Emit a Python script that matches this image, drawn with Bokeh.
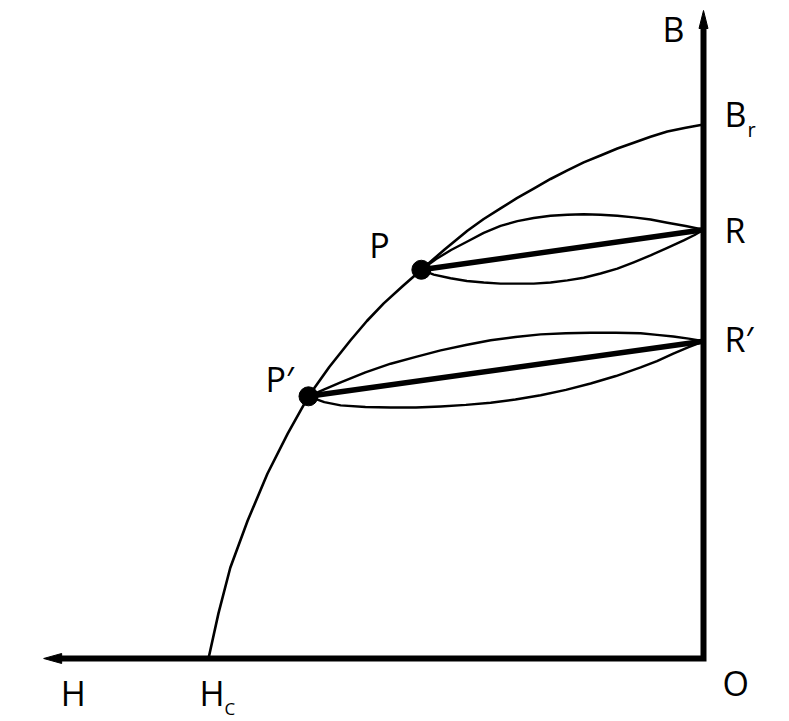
from bokeh.plotting import figure
from bokeh.models import Range1d, Label
from bokeh.embed import file_html
from bokeh.resources import INLINE

# ---- data (H in units of Hc, B in units of Br) ----
HC = -1.0
BR = 1.0
H_AXIS_END = -1.333
B_AXIS_END = 1.2135

# demagnetisation curve from Hc to Br
curve_H = [-1.000, -0.980, -0.956, -0.921, -0.881, -0.840, -0.798, -0.756, -0.713, -0.680,
           -0.646, -0.608, -0.570, -0.523, -0.477, -0.444, -0.410, -0.377, -0.343, -0.309,
           -0.275, -0.242, -0.208, -0.174, -0.141, -0.107, -0.073, -0.036, 0.000]
curve_B = [0.000, 0.084, 0.170, 0.258, 0.346, 0.421, 0.491, 0.546, 0.596, 0.632,
           0.665, 0.697, 0.728, 0.766, 0.801, 0.823, 0.843, 0.862, 0.880, 0.898,
           0.914, 0.929, 0.942, 0.955, 0.966, 0.977, 0.987, 0.994, 1.000]

# working points and recoil points
P = (-0.570, 0.728)
R = (0.000, 0.803)
P2 = (-0.798, 0.491)
R2 = (0.000, 0.594)

# recoil loop through P
loop1_up_H = [-0.570, -0.540, -0.510, -0.477, -0.444, -0.410, -0.376, -0.343, -0.309, -0.275,
              -0.242, -0.208, -0.174, -0.141, -0.107, -0.073, -0.036, 0.000]
loop1_up_B = [0.728, 0.748, 0.765, 0.781, 0.797, 0.810, 0.819, 0.825, 0.829, 0.831,
              0.832, 0.831, 0.829, 0.826, 0.822, 0.816, 0.810, 0.803]
loop1_lo_H = [-0.570, -0.545, -0.511, -0.478, -0.444, -0.410, -0.376, -0.343, -0.309, -0.275,
              -0.242, -0.208, -0.174, -0.141, -0.107, -0.073, -0.040, -0.018, 0.000]
loop1_lo_B = [0.728, 0.719, 0.712, 0.707, 0.704, 0.702, 0.702, 0.702, 0.704, 0.708,
              0.713, 0.721, 0.730, 0.742, 0.755, 0.769, 0.783, 0.793, 0.803]

# recoil loop through P'
loop2_up_H = [-0.798, -0.766, -0.733, -0.683, -0.632, -0.581, -0.531, -0.480, -0.430, -0.380,
              -0.329, -0.278, -0.228, -0.177, -0.127, -0.094, -0.061, -0.030, 0.000]
loop2_up_B = [0.491, 0.504, 0.517, 0.536, 0.552, 0.565, 0.577, 0.587, 0.596, 0.602,
              0.607, 0.609, 0.610, 0.610, 0.609, 0.606, 0.603, 0.599, 0.594]
loop2_lo_H = [-0.798, -0.766, -0.733, -0.683, -0.632, -0.581, -0.531, -0.480, -0.430, -0.380,
              -0.329, -0.278, -0.228, -0.177, -0.127, -0.094, -0.061, -0.030, 0.000]
loop2_lo_B = [0.491, 0.480, 0.474, 0.471, 0.470, 0.470, 0.472, 0.475, 0.479, 0.485,
              0.493, 0.503, 0.515, 0.529, 0.545, 0.557, 0.571, 0.583, 0.594]

# ---- figure ----
W, H = 789, 721
x0, x1 = -1.420202, 0.173737
y0, y1 = -0.117978, 1.232210
p = figure(width=W, height=H, x_range=Range1d(x0, x1), y_range=Range1d(y0, y1),
           output_backend="svg", toolbar_location=None, min_border=0,
           x_axis_location=None, y_axis_location=None)
p.grid.visible = False
p.outline_line_color = None
p.background_fill_color = "white"

ux = (x1 - x0) / W   # data per pixel
uy = (y1 - y0) / H

# axes (one polyline with a square corner)
p.line([H_AXIS_END + 15 * ux, 0, 0], [0, 0, B_AXIS_END - 15 * uy],
       line_width=6, line_color="black", line_join="miter", line_cap="butt")
# arrow heads
p.patch([0, -4.5 * ux, 4.5 * ux], [B_AXIS_END, B_AXIS_END - 18 * uy, B_AXIS_END - 18 * uy],
        fill_color="black", line_color="black", line_width=1)
p.patch([H_AXIS_END, H_AXIS_END + 18 * ux, H_AXIS_END + 18 * ux],
        [0, 5 * uy, -5 * uy], fill_color="black", line_color="black", line_width=1)

# curves
p.line(curve_H, curve_B, line_width=2.6, line_color="black", line_join="round")
for hx, by in [(loop1_up_H, loop1_up_B), (loop1_lo_H, loop1_lo_B),
               (loop2_up_H, loop2_up_B), (loop2_lo_H, loop2_lo_B)]:
    p.line(hx, by, line_width=2.4, line_color="black", line_join="round")
p.line([P[0], R[0]], [P[1], R[1]], line_width=5.5, line_color="black")
p.line([P2[0], R2[0]], [P2[1], R2[1]], line_width=5.5, line_color="black")
p.scatter([P[0], P2[0]], [P[1], P2[1]], size=19, fill_color="black", line_color="black")

FONT = "Open Sans"
def lab(text, x, y, dx, dy, size=34):
    shift = round(size * 0.38)
    p.add_layout(Label(x=x, y=y, x_offset=dx, y_offset=dy + shift, text=text,
                       text_font=FONT, text_font_size=f"{size}px", text_color="black",
                       text_align="left", text_baseline="alphabetic"))

lab("B", 0, B_AXIS_END, -41, -32)
lab("B", 0, BR, 21, -2)
lab("r", 0, BR, 44, -13, 20)
lab("R", R[0], R[1], 21, -13)
lab("R\u2032", R2[0], R2[1], 21, -11)
lab("P", P[0], P[1], -52, 12)
lab("P\u2032", P2[0], P2[1], -43, 4)
lab("H", H_AXIS_END, 0, 17, -48)
lab("H", HC, 0, -9, -48)
lab("C", HC, 0, 16, -56, 17)
lab("O", 0, 0, 19, -38)

open("out.html", "w").write(file_html(p, INLINE))
